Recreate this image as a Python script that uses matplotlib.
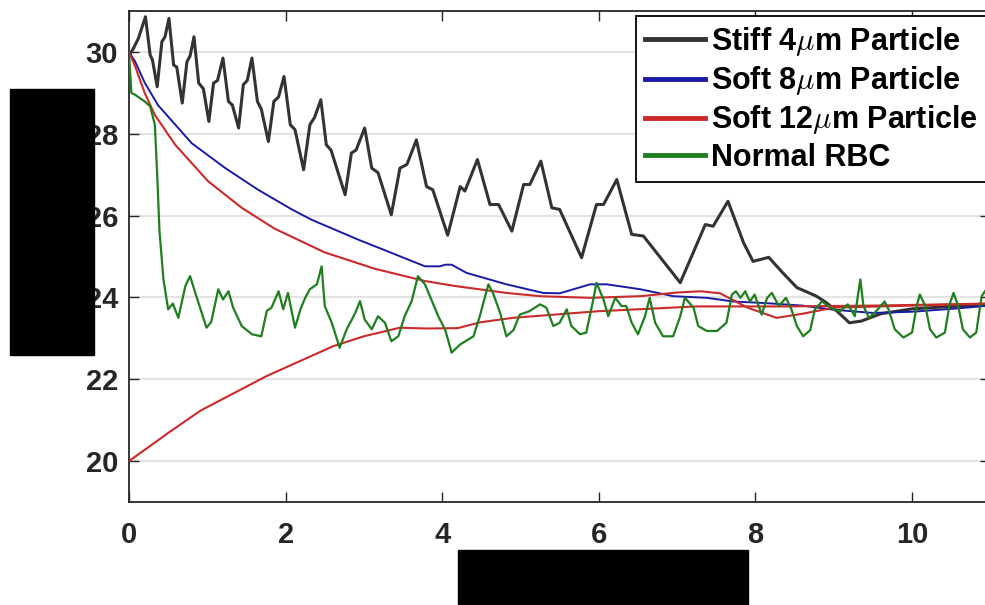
import matplotlib
matplotlib.use("Agg")
import matplotlib.pyplot as plt
from matplotlib.patches import Rectangle

plt.rcParams['font.family'] = ['Liberation Sans', 'DejaVu Sans']
plt.rcParams['font.weight'] = 'bold'
plt.rcParams['mathtext.fontset'] = 'cm'

# Stiff 4um particle (black)
stiff_x = [0, 0.06, 0.12, 0.21, 0.27, 0.30, 0.36, 0.42, 0.46, 0.51, 0.57, 0.61, 0.68, 0.74, 0.78,
           0.83, 0.89, 0.95, 1.02, 1.08, 1.13, 1.2, 1.27, 1.32, 1.4, 1.46, 1.51, 1.57, 1.64, 1.69,
           1.78, 1.85, 1.91, 1.98, 2.06, 2.12, 2.23, 2.31, 2.37, 2.45, 2.52, 2.58, 2.76, 2.84, 2.9,
           3.01, 3.1, 3.18, 3.35, 3.46, 3.55, 3.67, 3.8, 3.88, 4.07, 4.23, 4.29, 4.45, 4.61, 4.72,
           4.89, 5.04, 5.12, 5.26, 5.4, 5.5, 5.78, 5.97, 6.06, 6.23, 6.42, 6.57, 7.04, 7.36, 7.46,
           7.65, 7.85, 7.97, 8.17, 8.35, 8.53, 8.78, 8.9, 9.05, 9.2, 9.35, 9.6, 10.0, 10.5, 11.0]
stiff_y = [29.9, 30.1, 30.33, 30.86, 29.93, 29.8, 29.15, 30.25, 30.37, 30.82, 29.68, 29.63, 28.75,
           29.76, 29.9, 30.37, 29.24, 29.1, 28.3, 29.24, 29.3, 29.85, 28.79, 28.7, 28.14, 29.2, 29.3,
           29.85, 28.79, 28.6, 27.81, 28.79, 28.9, 29.4, 28.22, 28.1, 27.12, 28.22, 28.4, 28.83,
           27.73, 27.6, 26.51, 27.53, 27.6, 28.14, 27.16, 27.05, 26.02, 27.16, 27.25, 27.85, 26.71,
           26.63, 25.52, 26.71, 26.6, 27.37, 26.27, 26.27, 25.62, 26.76, 26.76, 27.33, 26.19, 26.15,
           24.97, 26.27, 26.27, 26.88, 25.54, 25.5, 24.36, 25.78, 25.74, 26.35, 25.33, 24.88, 24.98,
           24.6, 24.24, 24.03, 23.88, 23.65, 23.38, 23.42, 23.6, 23.72, 23.78, 23.82]

# Soft 8um particle (blue)
soft8_x = [0, 0.08, 0.2, 0.37, 0.8, 1.23, 1.65, 2.08, 2.33, 2.93, 3.35, 3.78, 3.97, 4.04, 4.12,
           4.31, 4.82, 5.29, 5.5, 5.89, 6.1, 6.53, 6.95, 7.38, 7.72, 8.14, 8.6, 9.0, 9.5, 10.0,
           10.5, 11.0]
soft8_y = [30.0, 29.76, 29.25, 28.7, 27.77, 27.16, 26.63, 26.15, 25.9, 25.41, 25.09, 24.76, 24.76,
           24.8, 24.8, 24.6, 24.32, 24.11, 24.1, 24.32, 24.32, 24.2, 24.03, 23.99, 23.9, 23.86,
           23.8, 23.7, 23.62, 23.65, 23.72, 23.8]

# Soft 12um particle, released high (red)
soft12a_x = [0, 0.08, 0.2, 0.33, 0.59, 1.01, 1.44, 1.86, 2.5, 3.14, 3.78, 4.16, 4.82, 5.25, 5.89,
             6.53, 7.0, 7.3, 7.55, 7.9, 8.27, 8.6, 9.0, 10.0, 11.0]
soft12a_y = [30.0, 29.64, 29.0, 28.46, 27.73, 26.84, 26.19, 25.68, 25.1, 24.7, 24.4, 24.28, 24.11,
             24.03, 23.99, 24.03, 24.12, 24.15, 24.1, 23.75, 23.5, 23.6, 23.75, 23.8, 23.85]

# Soft 12um particle, released low (red)
soft12b_x = [0, 0.27, 0.48, 0.91, 1.76, 2.61, 3.0, 3.46, 3.8, 4.2, 4.48, 4.9, 5.97, 7.25, 8.4,
             9.5, 11.0]
soft12b_y = [20.0, 20.37, 20.66, 21.23, 22.08, 22.81, 23.05, 23.26, 23.24, 23.25, 23.39, 23.5,
             23.66, 23.78, 23.78, 23.8, 23.85]

# Normal RBC (green)
rbc_x = [0, 0.03, 0.08, 0.2, 0.27, 0.33, 0.36, 0.39, 0.44, 0.5, 0.56, 0.63, 0.72, 0.78, 0.86,
         0.99, 1.05, 1.14, 1.2, 1.27, 1.33, 1.44, 1.57, 1.69, 1.76, 1.82, 1.91, 1.97, 2.03, 2.12,
         2.19, 2.25, 2.31, 2.4, 2.46, 2.5, 2.59, 2.69, 2.78, 2.89, 2.95, 3.01, 3.1, 3.18, 3.27,
         3.35, 3.44, 3.52, 3.61, 3.69, 3.78, 3.95, 4.04, 4.12, 4.23, 4.4, 4.48, 4.59, 4.65, 4.74,
         4.82, 4.91, 4.99, 5.11, 5.25, 5.33, 5.42, 5.5, 5.59, 5.65, 5.76, 5.84, 5.93, 5.97, 6.06,
         6.12, 6.21, 6.29, 6.35, 6.42, 6.5, 6.59, 6.65, 6.72, 6.82, 6.95, 7.04, 7.1, 7.21, 7.27,
         7.38, 7.51, 7.63, 7.7, 7.75, 7.81, 7.87, 7.93, 7.99, 8.08, 8.15, 8.21, 8.3, 8.39, 8.46,
         8.53, 8.61, 8.7, 8.76, 8.85, 8.96, 9.08, 9.18, 9.27, 9.34, 9.38, 9.45, 9.54, 9.65, 9.7,
         9.78, 9.89, 10.0, 10.06, 10.1, 10.17, 10.23, 10.31, 10.42, 10.48, 10.53, 10.59, 10.65,
         10.74, 10.82, 10.89, 10.95]
rbc_y = [30.0, 29.0, 28.95, 28.79, 28.67, 28.22, 27.0, 25.6, 24.44, 23.71, 23.85, 23.5, 24.28,
         24.52, 24.03, 23.26, 23.4, 24.2, 23.95, 24.15, 23.75, 23.3, 23.1, 23.05, 23.67, 23.75,
         24.15, 23.71, 24.11, 23.26, 23.71, 23.99, 24.2, 24.32, 24.76, 23.79, 23.38, 22.77, 23.22,
         23.62, 23.91, 23.46, 23.22, 23.54, 23.38, 22.93, 23.05, 23.54, 23.91, 24.52, 24.32, 23.54,
         23.2, 22.65, 22.85, 23.05, 23.54, 24.32, 24.1, 23.62, 23.05, 23.2, 23.58, 23.66, 23.83,
         23.75, 23.3, 23.38, 23.71, 23.3, 23.1, 23.14, 23.95, 24.36, 23.95, 23.54, 23.99, 23.79,
         23.79, 23.38, 23.1, 23.54, 23.99, 23.38, 23.05, 23.05, 23.54, 23.99, 23.75, 23.3, 23.18,
         23.18, 23.38, 24.07, 24.15, 23.99, 24.15, 23.9, 24.07, 23.58, 23.99, 24.11, 23.79, 23.99,
         23.71, 23.3, 23.05, 23.2, 23.71, 23.9, 23.75, 23.66, 23.83, 23.54, 24.44, 23.79, 23.5,
         23.66, 23.9, 23.71, 23.22, 23.02, 23.14, 23.79, 24.07, 23.79, 23.22, 23.02, 23.14, 23.83,
         24.11, 23.79, 23.22, 23.02, 23.14, 24.03, 24.2]

yticks = [20, 22, 24, 26, 28, 30]
xticks = [0, 2, 4, 6, 8, 10]

W, H = 985, 605
fig = plt.figure(figsize=(W / 100, H / 100), dpi=100)
ax = fig.add_axes([129 / W, (H - 502) / H, 11 * 78.3 / W, (502 - 11) / H])

ax.plot(stiff_x, stiff_y, color='#333333', lw=2.2, label=r'Stiff 4$\mu$m Particle', zorder=3)
ax.plot(soft8_x, soft8_y, color='#1a1aa6', lw=1.4, label=r'Soft 8$\mu$m Particle', zorder=3)
ax.plot(soft12a_x, soft12a_y, color='#cc2a2a', lw=1.5, label=r'Soft 12$\mu$m Particle', zorder=3)
ax.plot(soft12b_x, soft12b_y, color='#cc2a2a', lw=1.5, zorder=3)
ax.plot(rbc_x, rbc_y, color='#1f7f1f', lw=1.6, label='Normal RBC', zorder=4)

ax.set_xlim(0, 11)
ax.set_ylim(19, 31)
ax.set_xticks(xticks)
ax.set_yticks(yticks)
ax.yaxis.grid(True, color='#e3e3e3', lw=1.5)
ax.set_axisbelow(True)
ax.tick_params(direction='in', length=7, width=1, colors='#262626', labelsize=21,
               top=True, right=True)
ax.tick_params(axis='x', pad=14)
ax.tick_params(axis='y', pad=8)
for s in ax.spines.values():
    s.set_color('#262626')
    s.set_linewidth(1.3)
for lab in ax.get_xticklabels() + ax.get_yticklabels():
    lab.set_fontweight('bold')

leg = ax.legend(loc='upper left', bbox_to_anchor=(636 / W, 1 - 16 / H),
                bbox_transform=fig.transFigure, borderaxespad=0, fancybox=False,
                edgecolor='black', framealpha=1, fontsize=22, handlelength=1.95,
                handletextpad=0.2, labelspacing=0.2, borderpad=0.3)
leg.get_frame().set_linewidth(1.3)
for line in leg.get_lines():
    line.set_linewidth(3.5)
for t in leg.get_texts():
    t.set_fontweight('bold')

# redaction boxes over the axis titles
fig.add_artist(Rectangle((10 / W, 1 - 355 / H), 84 / W, 266 / H, transform=fig.transFigure,
                         color='black', zorder=10))
fig.add_artist(Rectangle((458 / W, 0), 290 / W, 55 / H, transform=fig.transFigure,
                         color='black', zorder=10))

fig.savefig('out.png', dpi=100)
